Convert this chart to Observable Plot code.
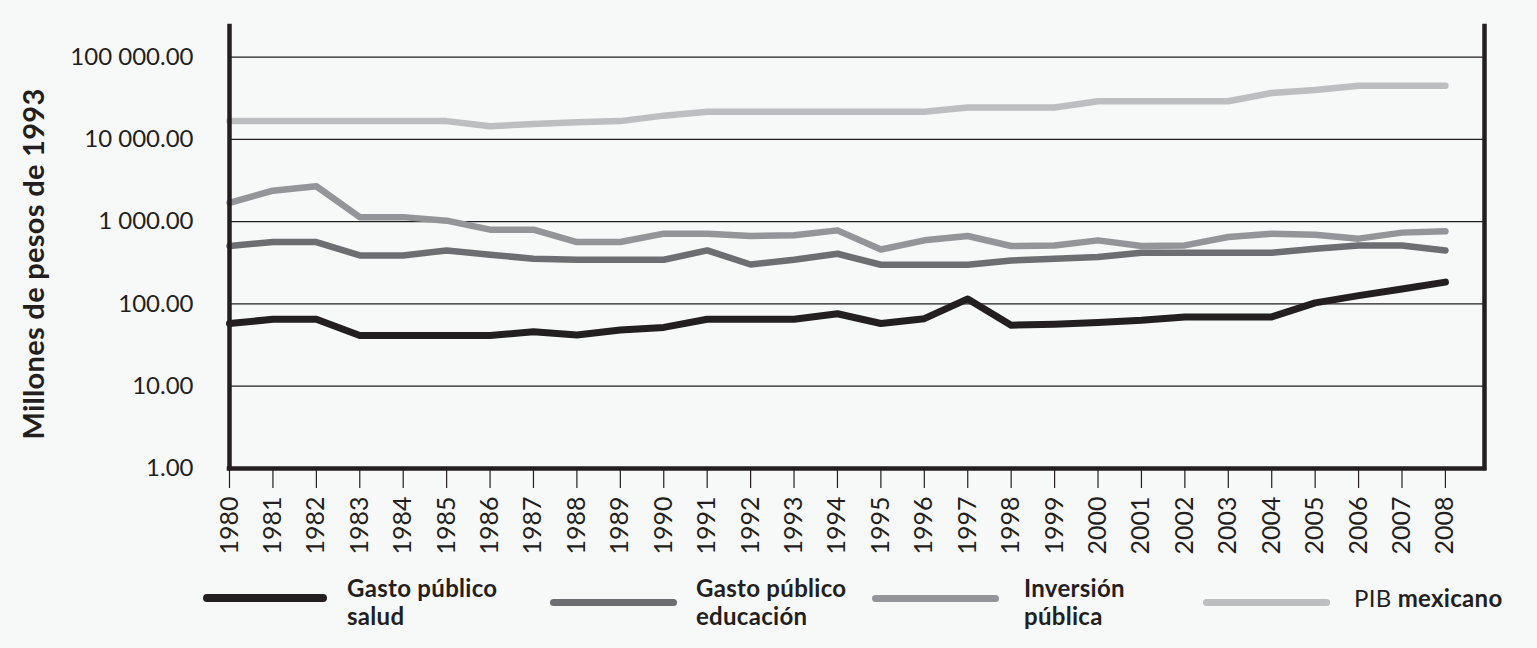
<!DOCTYPE html>
<html><head><meta charset="utf-8">
<script src="https://cdn.jsdelivr.net/npm/d3@7"></script>
<script src="https://cdn.jsdelivr.net/npm/@observablehq/plot@0.6"></script>
<style>
html,body{margin:0;padding:0;background:#f7f8f8;}
#wrap{position:relative;width:1537px;height:648px;overflow:hidden;font-family:Lato,"Open Sans",sans-serif;color:#231f20;}
#wrap svg{position:absolute;left:0;top:0;}
.ytitle{position:absolute;white-space:nowrap;font-weight:bold;font-size:29px;letter-spacing:0.3px;transform:translate(-50%,-50%) rotate(-90deg);}
.lg-line{position:absolute;height:7px;border-radius:4px;}
.lg-text{position:absolute;white-space:pre-line;font-weight:bold;font-size:24px;letter-spacing:0.3px;line-height:28px;}
</style></head><body>
<div id="wrap"></div>
<script>
const years = [1980,1981,1982,1983,1984,1985,1986,1987,1988,1989,1990,1991,1992,1993,1994,1995,1996,1997,1998,1999,2000,2001,2002,2003,2004,2005,2006,2007,2008];
const saludValues = [57.8,65,65,41.3,41.3,41.3,41.3,46,41.9,48.1,51.8,65,65,65,76,57.8,66.2,115,55.2,56.7,59.4,63.2,69.5,69.5,69.5,103,126,152,184];
const educacionValues = [505,565,565,388,388,447,396,354,344,344,344,447,301,344,407,299,299,299,337,354,371,419,419,419,419,469,514,514,447];
const inversionValues = [1695,2375,2692,1134,1134,1027,798,798,565,565,714,714,669,681,783,459,592,669,505,514,592,505,514,651,714,694,621,735,762];
const pibValues = [16650,16650,16650,16650,16650,16650,14400,15400,16080,16650,19400,21700,21700,21700,21700,21700,21700,24400,24400,24400,29000,29000,29000,29000,36500,39800,44700,44700,44700];
const seriesNames = ["Gasto público salud","Gasto público educación","Inversión pública","PIB mexicano"];
const seriesColors = ["#231f20","#6d6e71","#939598","#bcbec0"];
const legendLabels = ["Gasto público\nsalud","Gasto público\neducación","Inversión\npública","<span style=\"font-weight:normal\">PIB</span> mexicano"];
const yTicks = [1,10,100,1000,10000,100000];
const yTickLabels = ["1.00","10.00","100.00","1 000.00","10 000.00","100 000.00"];
const yTitle = "Millones de pesos de 1993";
const xDomain = [1980, 2008.9];
const yDomain = [1, 235000];

const seriesValues = [saludValues, educacionValues, inversionValues, pibValues];
const rows = [];
seriesNames.forEach((s, k) => years.forEach((yr, i) => rows.push({series: s, year: yr, value: seriesValues[k][i]})));

const ink = "#231f20";
const drawOrder = [3, 2, 1, 0];
const widths = [7, 6.5, 6.5, 6.5];

const plot = Plot.plot({
  width: 1537, height: 560,
  marginTop: 26, marginBottom: 92, marginLeft: 229, marginRight: 53,
  style: {background: "transparent", fontFamily: "Lato, 'Open Sans', sans-serif", color: ink, overflow: "visible"},
  x: {domain: xDomain},
  y: {type: "log", domain: yDomain},
  color: {domain: seriesNames, range: seriesColors},
  marks: [
    Plot.ruleY(yTicks.slice(1), {stroke: ink, strokeWidth: 1.3}),
    ...drawOrder.map(k => Plot.lineY(rows.filter(d => d.series === seriesNames[k]), {
      x: "year", y: "value", stroke: "series", strokeWidth: widths[k],
      strokeLinecap: "round", strokeLinejoin: "round"
    })),
    Plot.ruleX([xDomain[0]], {stroke: ink, strokeWidth: 4.5, strokeLinecap: "square"}),
    Plot.ruleX([xDomain[1]], {stroke: ink, strokeWidth: 4.5, strokeLinecap: "square"}),
    Plot.ruleY([yDomain[0]], {stroke: ink, strokeWidth: 4.5, strokeLinecap: "square"}),
    Plot.axisX({ticks: years, tickFormat: d => String(d), tickSize: 20, tickPadding: 8, tickRotate: -90,
      fontSize: 25, stroke: ink, strokeWidth: 1.2, label: null}),
    Plot.axisY({ticks: yTicks, tickFormat: d => yTickLabels[yTicks.indexOf(d)], tickSize: 0, tickPadding: 36,
      fontSize: 24, label: null})
  ]
});

const wrap = document.getElementById("wrap");
wrap.appendChild(plot);

const title = document.createElement("div");
title.className = "ytitle";
title.textContent = yTitle;
title.style.left = "32px";
title.style.top = "264px";
wrap.appendChild(title);

const legendLayout = [
  {x1: 203, x2: 327, ly: 598, tx: 347, top: 573.5},
  {x1: 550, x2: 677, ly: 602, tx: 696, top: 573.5},
  {x1: 872, x2: 999, ly: 598, tx: 1024, top: 573.5},
  {x1: 1203, x2: 1330, ly: 602, tx: 1354, top: 583.5}
];
legendLayout.forEach((L, k) => {
  const line = document.createElement("div");
  line.className = "lg-line";
  line.style.left = L.x1 + "px";
  line.style.width = (L.x2 - L.x1) + "px";
  line.style.top = (L.ly - 3.5) + "px";
  line.style.background = seriesColors[k];
  if (k === 0) { line.style.height = "8px"; line.style.top = (L.ly - 4) + "px"; }
  wrap.appendChild(line);
  const t = document.createElement("div");
  t.className = "lg-text";
  t.style.left = L.tx + "px";
  t.style.top = L.top + "px";
  t.innerHTML = legendLabels[k];
  wrap.appendChild(t);
});
</script>
</body></html>
